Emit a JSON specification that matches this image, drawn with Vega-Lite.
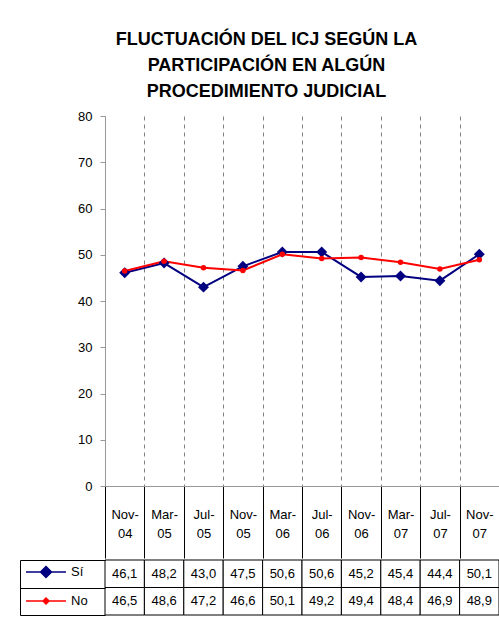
{
  "$schema": "https://vega.github.io/schema/vega-lite/v6.json",
  "padding": {"left": 19, "top": 31, "right": 0, "bottom": 0},
  "title": {
    "text": ["FLUCTUACIÓN DEL ICJ SEGÚN LA", "PARTICIPACIÓN EN ALGÚN", "PROCEDIMIENTO JUDICIAL"],
    "anchor": "middle", "font": "Liberation Sans", "fontSize": 18, "fontWeight": "bold",
    "lineHeight": 26, "color": "black", "offset": 9, "dx": 7
  },
  "data": {"values": [
    {"periodo": "Nov-04", "serie": "Sí", "valor": 46.1},
    {"periodo": "Mar-05", "serie": "Sí", "valor": 48.2},
    {"periodo": "Jul-05", "serie": "Sí", "valor": 43.0},
    {"periodo": "Nov-05", "serie": "Sí", "valor": 47.5},
    {"periodo": "Mar-06", "serie": "Sí", "valor": 50.6},
    {"periodo": "Jul-06", "serie": "Sí", "valor": 50.6},
    {"periodo": "Nov-06", "serie": "Sí", "valor": 45.2},
    {"periodo": "Mar-07", "serie": "Sí", "valor": 45.4},
    {"periodo": "Jul-07", "serie": "Sí", "valor": 44.4},
    {"periodo": "Nov-07", "serie": "Sí", "valor": 50.1},
    {"periodo": "Nov-04", "serie": "No", "valor": 46.5},
    {"periodo": "Mar-05", "serie": "No", "valor": 48.6},
    {"periodo": "Jul-05", "serie": "No", "valor": 47.2},
    {"periodo": "Nov-05", "serie": "No", "valor": 46.6},
    {"periodo": "Mar-06", "serie": "No", "valor": 50.1},
    {"periodo": "Jul-06", "serie": "No", "valor": 49.2},
    {"periodo": "Nov-06", "serie": "No", "valor": 49.4},
    {"periodo": "Mar-07", "serie": "No", "valor": 48.4},
    {"periodo": "Jul-07", "serie": "No", "valor": 46.9},
    {"periodo": "Nov-07", "serie": "No", "valor": 48.9}
  ]},
  "spacing": 0,
  "resolve": {
    "scale": {"color": "independent", "fill": "independent", "stroke": "independent", "shape": "independent", "size": "independent", "x": "independent", "y": "independent"},
    "legend": {"color": "independent", "fill": "independent", "stroke": "independent", "shape": "independent", "size": "independent"}
  },
  "vconcat": [
    {
      "width": 394,
      "height": 370,
      "encoding": {
        "x": {
          "field": "periodo", "type": "nominal", "sort": null,
          "scale": {"type": "band", "paddingInner": 0, "paddingOuter": 0},
          "axis": {
            "title": null, "labelAngle": 0, "tickBand": "extent",
            "grid": true, "gridDash": [4, 4], "gridColor": "#808080", "gridWidth": 1,
            "tickSize": 72, "tickColor": "black", "tickWidth": 1,
            "domainColor": "#999999",
            "labelPadding": -50, "labelBaseline": "top",
            "labelExpr": "[slice(datum.label,0,4), slice(datum.label,4)]",
            "labelLineHeight": 19, "labelFontSize": 13, "labelFont": "Liberation Sans",
            "labelColor": "black"
          }
        },
        "y": {
          "field": "valor", "type": "quantitative",
          "scale": {"domain": [0, 80], "nice": false},
          "axis": {
            "title": null, "values": [0, 10, 20, 30, 40, 50, 60, 70, 80], "grid": false,
            "domainColor": "#999999", "tickColor": "#999999", "tickSize": 5, "labelPadding": 8,
            "labelFontSize": 13, "labelFont": "Liberation Sans", "labelColor": "black"
          }
        },
        "color": {
          "field": "serie", "type": "nominal",
          "scale": {"domain": ["Sí", "No"], "range": ["#000080", "#ff0000"]},
          "legend": null
        }
      },
      "layer": [
        {"mark": {"type": "line", "strokeWidth": 2}},
        {
          "mark": {"type": "point", "filled": true, "opacity": 1},
          "encoding": {
            "shape": {"field": "serie", "type": "nominal", "scale": {"domain": ["Sí", "No"], "range": ["diamond", "circle"]}, "legend": null},
            "size": {"field": "serie", "type": "nominal", "scale": {"domain": ["Sí", "No"], "range": [120, 30]}, "legend": null}
          }
        }
      ]
    },
    {
      "width": 394,
      "height": 55,
      "encoding": {
        "x": {
          "field": "periodo", "type": "nominal", "sort": null,
          "scale": {"type": "band", "paddingInner": 0, "paddingOuter": 0},
          "axis": null
        },
        "y": {
          "field": "serie", "type": "nominal",
          "scale": {"type": "band", "domain": ["Sí", "No"], "paddingInner": 0, "paddingOuter": 0},
          "axis": {
            "title": null, "labels": false, "offset": 85, "tickSize": -85, "tickBand": "extent",
            "tickColor": "black", "domainColor": "black", "tickWidth": 1, "domainWidth": 1
          }
        }
      },
      "layer": [
        {"mark": {"type": "rect", "fill": "white", "stroke": "black", "strokeWidth": 1}},
        {
          "mark": {"type": "text", "font": "Liberation Sans", "fontSize": 13, "color": "black", "baseline": "middle", "align": "center"},
          "encoding": {"text": {"field": "valor", "type": "quantitative", "format": ".1f"}}
        },
        {
          "mark": {"type": "point", "opacity": 0},
          "encoding": {
            "fill": {
              "field": "serie", "type": "nominal",
              "scale": {"domain": ["Sí", "No"], "range": ["#000080", "#ff0000"]},
              "legend": {
                "title": null, "orient": "none", "legendX": -70, "legendY": 1,
                "symbolOpacity": 1, "symbolStrokeWidth": 1.5, "symbolSize": 400,
                "labelOffset": 14, "labelFontSize": 13, "labelFont": "Liberation Sans", "labelColor": "black",
                "rowPadding": 9, "padding": 0
              }
            },
            "stroke": {
              "field": "serie", "type": "nominal",
              "scale": {"domain": ["Sí", "No"], "range": ["#000080", "#ff0000"]},
              "legend": {
                "title": null, "orient": "none", "legendX": -70, "legendY": 1,
                "symbolOpacity": 1, "symbolStrokeWidth": 1.5, "symbolSize": 400,
                "labelOffset": 14, "labelFontSize": 13, "labelFont": "Liberation Sans", "labelColor": "black",
                "rowPadding": 9, "padding": 0
              }
            },
            "shape": {
              "field": "serie", "type": "nominal",
              "scale": {"domain": ["Sí", "No"], "range": ["M-2,0L2,0M0,-0.55L0.55,0L0,0.55L-0.55,0Z", "M-2,0L2,0M0,-0.3L0.3,0L0,0.3L-0.3,0Z"]},
              "legend": {
                "title": null, "orient": "none", "legendX": -70, "legendY": 1,
                "symbolOpacity": 1, "symbolStrokeWidth": 1.5, "symbolSize": 400,
                "labelOffset": 14, "labelFontSize": 13, "labelFont": "Liberation Sans", "labelColor": "black",
                "rowPadding": 9, "padding": 0
              }
            }
          }
        }
      ]
    }
  ],
  "config": {
    "view": {"stroke": null},
    "locale": {"number": {"decimal": ",", "thousands": ".", "grouping": [3], "currency": ["", " €"]}}
  }
}
